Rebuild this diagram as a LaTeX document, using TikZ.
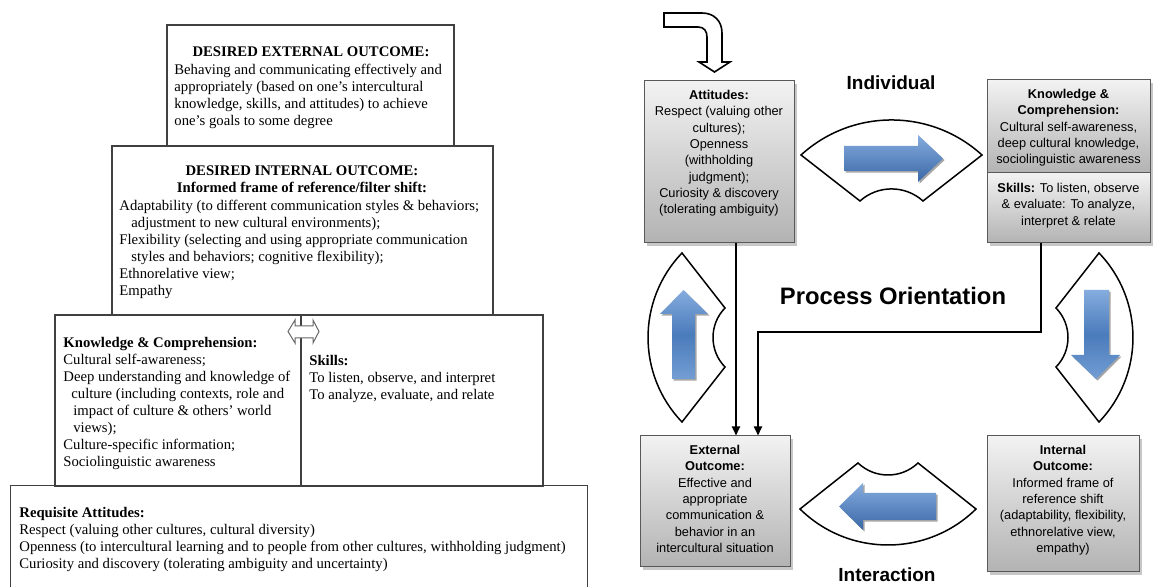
\documentclass[tikz,border=0pt]{standalone}
\usepackage{fontspec}
\setmainfont{Liberation Serif}
\newfontfamily\arialf{Liberation Sans}
\usetikzlibrary{fit,arrows.meta}
\definecolor{bluelt}{HTML}{85ACDE}
\definecolor{bluemd}{HTML}{4A7BBB}
\definecolor{bluedk}{HTML}{3A67A6}
\begin{document}
\begin{tikzpicture}[x=0.5pt,y=-0.5pt,
  lbox/.style={draw=black!75, line width=0.6pt, inner sep=0pt},
  ltxt/.style={font=\fontsize{7.35}{8.5}\selectfont, align=left, anchor=north west, inner sep=0pt},
  ltitle/.style={font=\fontsize{7.35}{8.5}\selectfont\bfseries, anchor=base, inner sep=0pt},
  rbox/.style={draw=black!65, line width=0.5pt, top color=black!5, bottom color=black!30, inner sep=0pt},
  rshadow/.style={fill=black!22},
  rtxt/.style={font=\arialf\fontsize{6.4}{8.15}\selectfont, align=center, anchor=north, inner sep=0pt},
  rlabel/.style={font=\arialf\bfseries\fontsize{9.5}{11}\selectfont, inner sep=0pt},
  fan/.style={draw=black, line width=0.75pt, fill=white, line join=miter},
  conn/.style={draw=black, line width=0.9pt, -{Triangle[length=4.5pt,width=4pt]}},
  harrow/.style={draw=none, top color=bluelt, bottom color=bluedk},
  varrow/.style={draw=none, top color=bluelt, bottom color=bluelt!70!bluemd, middle color=bluemd},
  ashadow/.style={fill=black!35, xshift=0.8pt, yshift=-0.8pt}
]
\useasboundingbox (0,0) rectangle (1174,587);

% ---------------- left diagram ----------------
\node[lbox, fit={(167,25) (454,146)}] (extout) {};
\node[lbox, fit={(112,146) (493,315)}] (intout) {};
\node[lbox, fit={(55,315) (301,486)}] (know) {};
\node[lbox, fit={(301,315) (543,486)}] (skill) {};
\node[inner sep=0pt, fit={(11,486) (587,592)}] (req) {};
\draw[black!75, line width=0.6pt] (req.south west) |- (req.north east) -- (req.south east);

\node[ltitle] (extT) at (311,57) {DESIRED EXTERNAL OUTCOME:};
\node[ltxt] (extB) at (174,64) {Behaving and communicating effectively and\\
appropriately (based on one’s intercultural\\
knowledge, skills, and attitudes) to achieve\\
one’s goals to some degree};

\node[ltitle] (intT1) at (302,176) {DESIRED INTERNAL OUTCOME:};
\node[ltitle] (intT2) at (302,193) {Informed frame of reference/filter shift:};
\node[ltxt] (intB) at (119,200) {Adaptability (to different communication styles \& behaviors;\\
\hspace*{6pt}adjustment to new cultural environments);\\
Flexibility (selecting and using appropriate communication\\
\hspace*{6pt}styles and behaviors; cognitive flexibility);\\
Ethnorelative view;\\
Empathy};

\node[ltxt] (knowB) at (63,337) {\textbf{Knowledge \& Comprehension:}\\
Cultural self-awareness;\\
Deep understanding and knowledge of\\
\hspace*{4pt}culture (including contexts, role and\\
\hspace*{5pt}impact of culture \& others’ world\\
\hspace*{5pt}views);\\
Culture-specific information;\\
Sociolinguistic awareness};

\node[ltxt] (skillB) at (309,355) {\textbf{Skills:}\\
To listen, observe, and interpret\\
To analyze, evaluate, and relate};

\node[ltxt] (reqB) at (19,507) {\textbf{Requisite Attitudes:}\\
Respect (valuing other cultures, cultural diversity)\\
Openness (to intercultural learning and to people from other cultures, withholding judgment)\\
Curiosity and discovery (tolerating ambiguity and uncertainty)};

\draw[black!60, fill=white, line width=0.5pt, line join=miter] (288,331.5) -- (295,320) -- (295,326) -- (313,326) -- (313,320) -- (319,331.5) -- (313,343) -- (313,338) -- (295,338) -- (295,343) -- cycle;

% ---------------- right diagram ----------------
% entry arrow
\draw[line width=0.8pt, fill=white, line join=miter] (664,13) -- (702,13) .. controls (714,13) and (722,21) .. (722,33) -- (722,62) -- (730,62) -- (714.5,72) -- (699,62) -- (707,62) -- (707,37) .. controls (707,31) and (704,27) .. (698,27) -- (664,27) -- cycle;

% box shadows
\fill[rshadow] (647,84) rectangle (797,246);
\fill[rshadow] (990,83) rectangle (1153,246);
\fill[rshadow] (643,439) rectangle (793,570);
\fill[rshadow] (990,439) rectangle (1142,575);

\node[rbox, fit={(644,81) (794,243)}] (att) {};
\node[rbox, fit={(987,80) (1150,173)}] (kn) {};
\node[rbox, fit={(987,173) (1150,243)}] (sk) {};
\node[rbox, fit={(640,436) (790,567)}] (ext) {};
\node[rbox, fit={(987,436) (1139,572)}] (int) {};

\node[rtxt] (attT) at (719,90) {\textbf{Attitudes:}\\Respect (valuing other\\cultures);\\Openness\\(withholding\\judgment);\\Curiosity \& discovery\\(tolerating ambiguity)};
\node[rtxt] (knT) at (1068.5,89) {\textbf{Knowledge \&}\\\textbf{Comprehension:}\\Cultural self-awareness,\\deep cultural knowledge,\\sociolinguistic awareness};
\node[rtxt] (skT) at (1068.5,183) {\textbf{Skills:} To listen, observe\\\& evaluate: To analyze,\\interpret \& relate};
\node[rtxt] (extT2) at (715,445) {\textbf{External}\\\textbf{Outcome:}\\Effective and\\appropriate\\communication \&\\behavior in an\\intercultural situation};
\node[rtxt] (intT3) at (1063,445) {\textbf{Internal}\\\textbf{Outcome:}\\Informed frame of\\reference shift\\(adaptability, flexibility,\\ethnorelative view,\\empathy)};

\node[rlabel] (indiv) at (891,83) {Individual};
\node[rlabel, font=\arialf\bfseries\fontsize{11.9}{14}\selectfont] (proc) at (893,296) {Process Orientation};
\node[rlabel] (inter) at (887,575) {Interaction};

% connectors
\coordinate (c1) at (736,0);
\coordinate (c2) at (1041,332);
\coordinate (c3) at (758,332);
\draw[conn] (att.south -| c1) -- (ext.north -| c1);
\draw[conn] (sk.south -| c2) -- (c2) -- (c3) -- (ext.north -| c3);

% fans
\draw[fan] (801,155) .. controls (852.3,108.3) and (930.7,108.3) .. (982,155) -- (923,201) .. controls (905,184.9) and (878,184.9) .. (860,201) -- cycle;
\draw[fan] (800,509) .. controls (848.8,557) and (927.2,557) .. (976,509) -- (918,463) .. controls (901.2,479) and (874.8,479) .. (858,463) -- cycle;
\draw[fan] (682,253) -- (725,308) .. controls (709,324.4) and (709,350.6) .. (725,367) -- (682,422) .. controls (636.7,374.8) and (636.7,300.2) .. cycle;
\draw[fan] (1099,253) -- (1056,308) .. controls (1072,324.4) and (1072,350.6) .. (1056,367) -- (1099,422) .. controls (1144.3,374.8) and (1144.3,300.2) .. cycle;

% blue arrows
\fill[ashadow] (844,146) -- (918,146) -- (918,135) -- (943,158.5) -- (918,182) -- (918,171) -- (844,171) -- cycle;
\path[harrow] (844,146) -- (918,146) -- (918,135) -- (943,158.5) -- (918,182) -- (918,171) -- (844,171) -- cycle;
\fill[ashadow] (936,493) -- (863,493) -- (863,483) -- (839,506.5) -- (863,530) -- (863,520) -- (936,520) -- cycle;
\path[harrow] (936,493) -- (863,493) -- (863,483) -- (839,506.5) -- (863,530) -- (863,520) -- (936,520) -- cycle;
\fill[ashadow] (672,379) -- (672,314) -- (660,314) -- (683.5,290) -- (708,314) -- (695,314) -- (695,379) -- cycle;
\path[varrow] (672,379) -- (672,314) -- (660,314) -- (683.5,290) -- (708,314) -- (695,314) -- (695,379) -- cycle;
\fill[ashadow] (1084,290) -- (1109,290) -- (1109,355) -- (1120,355) -- (1096,379) -- (1071,355) -- (1084,355) -- cycle;
\path[varrow] (1084,290) -- (1109,290) -- (1109,355) -- (1120,355) -- (1096,379) -- (1071,355) -- (1084,355) -- cycle;
\end{tikzpicture}
\end{document}
